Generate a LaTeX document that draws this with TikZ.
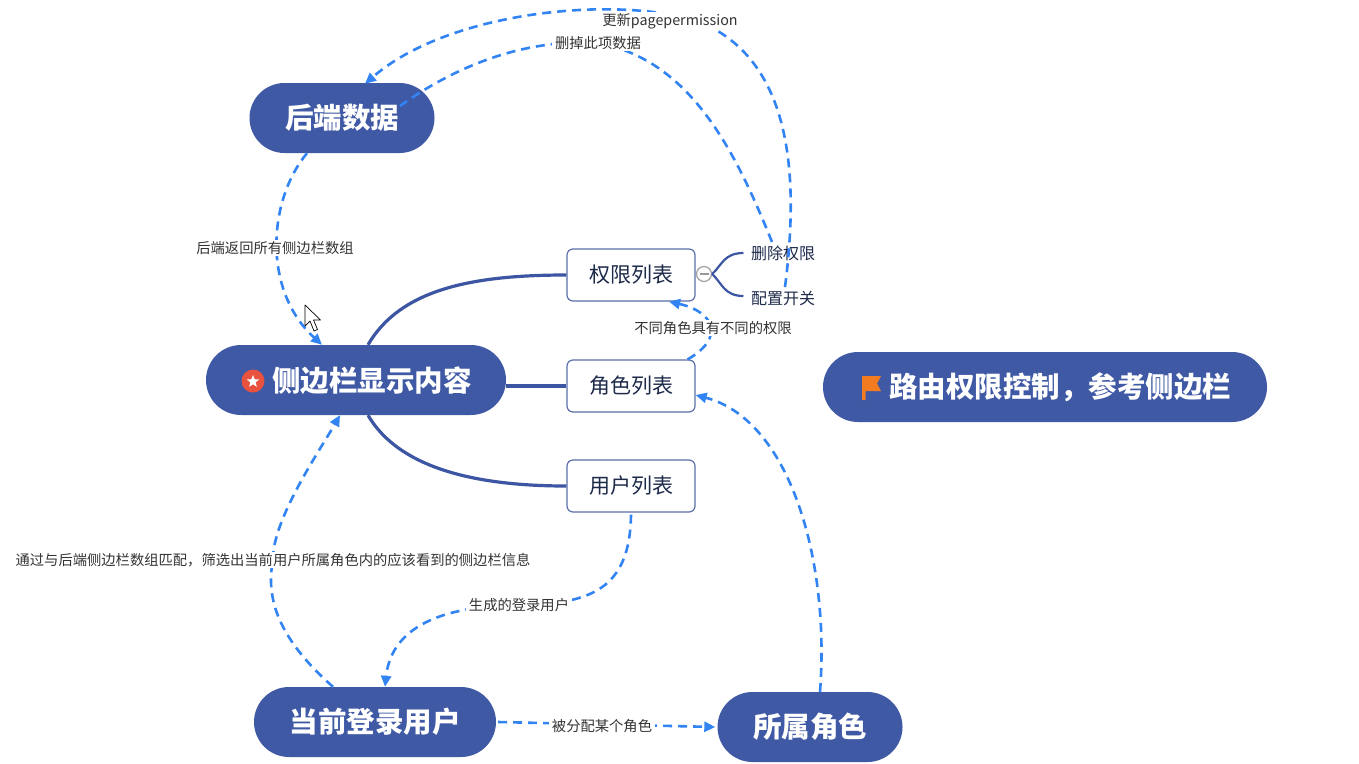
\documentclass[tikz,border=0pt]{standalone}
\usepackage{fontspec}
\setmainfont{Noto Sans CJK SC}
\usetikzlibrary{arrows.meta,shapes.geometric}
\definecolor{pillblue}{HTML}{3F59A5}
\definecolor{linkblue}{HTML}{3D56A3}
\definecolor{dashblue}{HTML}{3384F3}
\definecolor{boxedge}{HTML}{5B6FAA}
\definecolor{boxtext}{HTML}{1E2A4A}
\definecolor{lbltext}{HTML}{333333}
\definecolor{staricon}{HTML}{E8523E}
\definecolor{flagor}{HTML}{F47B20}
\begin{document}
\begin{tikzpicture}[x=1pt,y=-1pt,
  pill/.style={rectangle, rounded corners=35pt, fill=pillblue, minimum height=70pt, inner sep=0pt},
  pilltext/.style={text=white, font=\bfseries\fontsize{28.5}{30}\selectfont, inner sep=0pt},
  listbox/.style={rectangle, rounded corners=6pt, draw=boxedge, line width=1.2pt, fill=white,
    minimum width=128pt, minimum height=52pt, text=boxtext, font=\fontsize{21}{23}\selectfont, inner sep=0pt},
  leaftext/.style={text=boxtext, font=\fontsize{16}{18}\selectfont},
  lbl/.style={fill=white, text=lbltext, font=\fontsize{14.3}{16}\selectfont, inner ysep=1.2pt, inner xsep=3pt},
  solidlink/.style={draw=linkblue, line width=3.2pt},
  branchlink/.style={draw=linkblue, line width=2.2pt},
  dashline/.style={draw=dashblue, line width=2.6pt, dash pattern=on 9pt off 6pt},
  dasharrow/.style={dashline, -{Triangle[length=11pt,width=10pt]}}
]
\useasboundingbox (0,0) rectangle (1359,763);
\fill[white] (0,0) rectangle (1359,763);

% main nodes
\node[pill, minimum width=185pt, pilltext] (hd) at (342,118) {后端数据};
\node[pill, minimum width=300pt] (sb) at (356,380) {};
\node[pilltext] (sbt) at (372,381) {侧边栏显示内容};
\fill[staricon] (253,381) circle (11.5pt);
\node[star, star points=5, star point ratio=2.3, fill=white, minimum size=13pt, inner sep=0pt] (staric) at (253,381.5) {};
\node[pill, minimum width=444pt] (route) at (1045,387) {};
\node[pilltext] (routet) at (1060,387) {路由权限控制，参考侧边栏};
\fill[flagor] (862,376) -- (881,376) -- (877,383.5) -- (881,391) -- (865.5,391) -- (865.5,400) -- (862,400) -- cycle;
\node[pill, minimum width=242pt, pilltext] (cur) at (375,722) {当前登录用户};
\node[pill, minimum width=185pt, pilltext] (own) at (810,727) {所属角色};

\node[listbox] (perm) at (631,275) {权限列表};
\node[listbox] (role) at (631,386) {角色列表};
\node[listbox] (user) at (631,486) {用户列表};

\node[leaftext] (del) at (783,253) {删除权限};
\node[leaftext] (cfg) at (783,298) {配置开关};

% solid mind-map links
\draw[solidlink] ([xshift=12pt]sb.north) .. controls (400,290) and (470,275) .. (perm.west);
\draw[solidlink] ([yshift=-6pt]sb.east) -- ([yshift=0pt]role.west);
\draw[solidlink] ([xshift=12pt]sb.south) .. controls (400,470) and (480,486) .. (user.west);

% collapse toggle and branches
\node[circle, draw=gray!70, fill=white, line width=1.3pt, minimum size=15pt, inner sep=0pt] (tog) at (704,274) {};
\draw[gray!80, line width=1.3pt] ([xshift=-4.5pt]tog.center) -- ([xshift=4.5pt]tog.center);
\draw[branchlink] (tog.east) .. controls (722,265) and (724,253) .. ([xshift=-4pt]del.west);
\draw[branchlink] (tog.east) .. controls (722,283) and (724,296) .. ([xshift=-4pt,yshift=2pt]cfg.west);

% label anchor coordinates
\coordinate (l1) at (275,248);
\coordinate (l2) at (598,43);
\coordinate (l3) at (670,21);
\coordinate (l4) at (713,328);
\coordinate (l5) at (519,605);
\coordinate (l6) at (273,560);
\coordinate (l7) at (602,726);

% dashed relations
\draw[dasharrow] ([xshift=-35pt]hd.south) .. controls (268,200) and (262,290) .. ([xshift=-34pt]sb.north);
\draw[dashline] ([xshift=-11pt]del.north) .. controls (735,150) and (690,60) .. (l2)
   .. controls (520,38) and (450,70) .. ([xshift=58pt,yshift=12pt]hd.center);
\draw[dasharrow] ([xshift=2pt]cfg.north) .. controls (800,170) and (790,60) .. (700,22)
   .. controls (620,-5) and (450,10) .. ([xshift=23pt,yshift=-1pt]hd.north);
\draw[dasharrow] ([xshift=-8pt]role.north east) .. controls (725,338) and (715,312) .. ([xshift=38pt]perm.south);
\draw[dasharrow] ([xshift=10pt]own.north) .. controls (830,560) and (790,420) .. ([yshift=-9pt]role.east);
\draw[dashline] ([yshift=-2pt]user.south) .. controls (630,590) and (590,604) .. (l5);
\draw[dasharrow] (l5) .. controls (420,606) and (390,640) .. ([xshift=10pt]cur.north);
\draw[dashline] ([xshift=-42pt]cur.north) .. controls (280,640) and (265,600) .. (l6);
\draw[dasharrow] (l6) .. controls (272,520) and (320,450) .. ([xshift=-16pt]sb.south);
\draw[dasharrow] ([xshift=2pt]cur.east) -- ([xshift=-2pt]own.west);

% labels
\node[lbl] (t1) at (l1) {后端返回所有侧边栏数组};
\node[lbl] (t2) at (l2) {删掉此项数据};
\node[lbl] (t3) at (l3) {更新pagepermission};
\node[lbl] (t4) at (l4) {不同角色具有不同的权限};
\node[lbl] (t5) at (l5) {生成的登录用户};
\node[lbl] (t6) at (l6) {通过与后端侧边栏数组匹配，筛选出当前用户所属角色内的应该看到的侧边栏信息};
\node[lbl] (t7) at (l7) {被分配某个角色};

% mouse pointer
\draw[black, fill=white, line width=0.7pt, line join=round] (305,305) -- (305,326) -- (310,321) -- (314,331) -- (317.5,329.5) -- (313.5,320) -- (320.5,320) -- cycle;
\end{tikzpicture}
\end{document}
